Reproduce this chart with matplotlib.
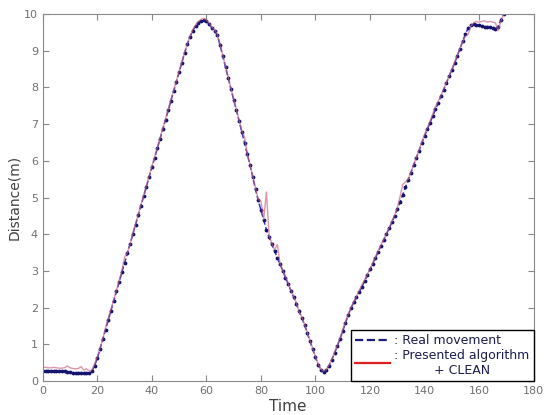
import numpy as np
import matplotlib.pyplot as plt
from matplotlib.lines import Line2D

# time steps (one sample per time unit)
time = np.arange(170)

# real movement (m)
real = [
    0.28, 0.28, 0.28, 0.27, 0.27, 0.27, 0.27, 0.26, 0.26, 0.25,
    0.24, 0.23, 0.22, 0.22, 0.21, 0.21, 0.21, 0.22, 0.26, 0.42,
    0.62, 0.88, 1.14, 1.40, 1.66, 1.92, 2.18, 2.44, 2.70, 2.96,
    3.22, 3.48, 3.74, 4.00, 4.26, 4.52, 4.78, 5.04, 5.30, 5.56,
    5.82, 6.08, 6.34, 6.60, 6.86, 7.12, 7.38, 7.64, 7.90, 8.16,
    8.42, 8.68, 8.94, 9.18, 9.38, 9.55, 9.68, 9.76, 9.82, 9.84,
    9.80, 9.72, 9.62, 9.55, 9.42, 9.15, 8.85, 8.55, 8.25, 7.95,
    7.66, 7.38, 7.08, 6.78, 6.48, 6.18, 5.88, 5.55, 5.22, 4.92,
    4.65, 4.38, 4.12, 3.92, 3.72, 3.54, 3.36, 3.18, 3.00, 2.82,
    2.64, 2.46, 2.28, 2.10, 1.90, 1.72, 1.52, 1.30, 1.08, 0.86,
    0.64, 0.44, 0.30, 0.25, 0.30, 0.42, 0.58, 0.76, 0.95, 1.15,
    1.36, 1.58, 1.80, 1.98, 2.14, 2.28, 2.42, 2.56, 2.72, 2.88,
    3.04, 3.20, 3.36, 3.52, 3.68, 3.84, 4.00, 4.16, 4.32, 4.50,
    4.68, 4.88, 5.08, 5.28, 5.48, 5.68, 5.88, 6.08, 6.28, 6.48,
    6.68, 6.86, 7.04, 7.22, 7.40, 7.58, 7.76, 7.94, 8.12, 8.30,
    8.48, 8.66, 8.86, 9.06, 9.26, 9.46, 9.62, 9.70, 9.72, 9.70,
    9.70, 9.68, 9.66, 9.66, 9.64, 9.62, 9.60, 9.66, 9.85, 10.0,
]

# presented algorithm + CLEAN (m)
estimated = [
    0.38, 0.37, 0.36, 0.36, 0.37, 0.36, 0.35, 0.35, 0.36, 0.41,
    0.36, 0.34, 0.33, 0.34, 0.39, 0.30, 0.33, 0.27, 0.30, 0.47,
    0.66, 0.90, 1.16, 1.45, 1.72, 1.96, 2.22, 2.47, 2.74, 3.02,
    3.38, 3.50, 3.72, 4.02, 4.28, 4.55, 4.80, 5.06, 5.33, 5.60,
    5.85, 6.10, 6.36, 6.63, 6.88, 7.14, 7.42, 7.67, 7.92, 8.18,
    8.45, 8.70, 8.97, 9.20, 9.40, 9.58, 9.70, 9.80, 9.86, 9.88,
    9.84, 9.76, 9.64, 9.58, 9.44, 9.18, 8.88, 8.57, 8.27, 7.97,
    7.68, 7.40, 7.10, 6.82, 6.64, 6.16, 5.90, 5.58, 5.25, 4.95,
    4.90, 4.40, 5.15, 3.96, 3.75, 3.58, 3.72, 3.20, 3.02, 2.84,
    2.66, 2.48, 2.30, 2.12, 1.88, 1.74, 1.54, 1.32, 1.10, 0.88,
    0.66, 0.46, 0.32, 0.27, 0.31, 0.44, 0.60, 0.78, 0.98, 1.18,
    1.40, 1.62, 1.82, 2.00, 2.16, 2.30, 2.46, 2.62, 2.76, 2.90,
    3.06, 3.22, 3.38, 3.55, 3.70, 3.86, 4.02, 4.18, 4.35, 4.52,
    4.72, 5.02, 5.36, 5.42, 5.50, 5.70, 5.90, 6.10, 6.30, 6.52,
    6.72, 6.90, 7.08, 7.28, 7.48, 7.62, 7.78, 7.96, 8.14, 8.32,
    8.50, 8.68, 8.88, 9.08, 9.24, 9.40, 9.45, 9.68, 9.76, 9.80,
    9.78, 9.80, 9.82, 9.78, 9.80, 9.78, 9.76, 9.55, 9.80, 10.0,
]

x_ticks = [0, 20, 40, 60, 80, 100, 120, 140, 160, 180]
y_ticks = [0, 1, 2, 3, 4, 5, 6, 7, 8, 9, 10]

fig = plt.figure(figsize=(5.49, 4.15), dpi=100)
ax = fig.add_axes([0.078, 0.082, 0.894, 0.884])

# real movement: dashed blue with dark dots
ax.plot(time, real, color="#3a34c8", linestyle="--", linewidth=1.1,
        marker=".", markersize=3.5, markerfacecolor="#14146e",
        markeredgecolor="#14146e")
# estimate: thin reddish line over it
ax.plot(time, estimated, color="#c8607a", linewidth=1.0, alpha=0.65)

ax.set_xlim(0, 180)
ax.set_ylim(0, 10)
ax.set_xticks(x_ticks)
ax.set_yticks(y_ticks)
ax.tick_params(direction="in", top=True, right=True, length=4,
               labelsize=8, colors="#888888", labelcolor="#707070")
for s in ax.spines.values():
    s.set_color("#8a8a8a")

ax.set_xlabel("Time", fontsize=11, color="#404040", labelpad=2)
ax.set_ylabel("Distance(m)", fontsize=10, color="#404040", labelpad=2)

handles = [
    Line2D([0], [0], color="#1a1a80", linestyle="--", linewidth=1.6),
    Line2D([0], [0], color="#e02020", linewidth=1.6),
]
labels = [": Real movement", ": Presented algorithm\n          + CLEAN"]
leg = ax.legend(handles, labels, loc="lower right", bbox_to_anchor=(1, 0),
                borderaxespad=0, fancybox=False, framealpha=1,
                edgecolor="black", fontsize=9, handlelength=2.8,
                handletextpad=0.3, labelspacing=0.1, borderpad=0.35)
leg.get_frame().set_linewidth(1.0)
for t in leg.get_texts():
    t.set_color("#1c1c50")

fig.savefig("out.png", dpi=100)
